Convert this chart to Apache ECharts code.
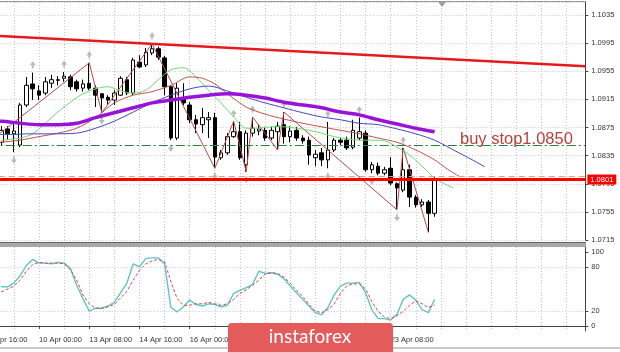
<!DOCTYPE html>
<html>
<head>
<meta charset="utf-8">
<script src="https://cdn.jsdelivr.net/npm/echarts@6/dist/echarts.min.js"></script>
<style>
  html, body { margin: 0; padding: 0; background: #fff; }
  #chart { width: 620px; height: 352px; }
</style>
</head>
<body>
<div id="chart"></div>
<script>
// H4 bars, trading days only
var tradingDays = [8, 9, 10, 13, 14, 15, 16, 17, 20, 21, 22, 23, 24, 27, 28, 29, 30];
var barHours = ['00:00', '04:00', '08:00', '12:00', '16:00', '20:00'];
var firstSlot = 4;        // axis starts at 8 Apr 16:00
var slotCount = 96;
var candleStart = 2;      // first candle: 9 Apr 00:00
var lastLabelSlot = 64;   // 23 Apr 08:00

var basePrice = 1.0715;   // bottom of price scale
var topPrice = 1.10535;

// [open, close, low, high]
var candles = [
  [1.0854, 1.0871, 1.0849, 1.0877], [1.0873, 1.0866, 1.0857, 1.0877], [1.0866, 1.0870, 1.0840, 1.0881],
  [1.0850, 1.0907, 1.0847, 1.0910], [1.0907, 1.0935, 1.0904, 1.0947], [1.0937, 1.0930, 1.0914, 1.0953],
  [1.0927, 1.0921, 1.0914, 1.0935], [1.0924, 1.0940, 1.0921, 1.0947], [1.0938, 1.0943, 1.0931, 1.0950],
  [1.0942, 1.0943, 1.0935, 1.0948], [1.0945, 1.0948, 1.0940, 1.0954], [1.0947, 1.0933, 1.0928, 1.0950],
  [1.0940, 1.0930, 1.0926, 1.0943], [1.0931, 1.0937, 1.0926, 1.0943], [1.0938, 1.0931, 1.0928, 1.0967],
  [1.0931, 1.0921, 1.0904, 1.0935], [1.0923, 1.0917, 1.0896, 1.0924], [1.0918, 1.0914, 1.0907, 1.0921],
  [1.0914, 1.0924, 1.0907, 1.0928], [1.0921, 1.0945, 1.0920, 1.0948], [1.0943, 1.0924, 1.0921, 1.0947],
  [1.0924, 1.0971, 1.0921, 1.0974], [1.0968, 1.0961, 1.0960, 1.0978], [1.0964, 1.0982, 1.0961, 1.0988],
  [1.0981, 1.0987, 1.0978, 1.0994], [1.0987, 1.0975, 1.0971, 1.0990], [1.0974, 1.0933, 1.0921, 1.0977],
  [1.0933, 1.0860, 1.0857, 1.0935], [1.0860, 1.0931, 1.0857, 1.0938], [1.0917, 1.0910, 1.0907, 1.0938],
  [1.0907, 1.0886, 1.0881, 1.0911], [1.0886, 1.0880, 1.0867, 1.0893], [1.0879, 1.0889, 1.0867, 1.0903],
  [1.0886, 1.0889, 1.0860, 1.0897], [1.0889, 1.0833, 1.0817, 1.0896], [1.0832, 1.0839, 1.0829, 1.0843],
  [1.0839, 1.0862, 1.0836, 1.0867], [1.0862, 1.0869, 1.0860, 1.0884], [1.0869, 1.0832, 1.0829, 1.0883],
  [1.0822, 1.0867, 1.0812, 1.0871], [1.0867, 1.0874, 1.0862, 1.0890], [1.0870, 1.0873, 1.0864, 1.0879],
  [1.0871, 1.0860, 1.0856, 1.0876], [1.0860, 1.0871, 1.0857, 1.0876], [1.0869, 1.0877, 1.0843, 1.0883],
  [1.0879, 1.0862, 1.0852, 1.0897], [1.0862, 1.0870, 1.0854, 1.0877], [1.0871, 1.0860, 1.0856, 1.0876],
  [1.0860, 1.0856, 1.0852, 1.0864], [1.0857, 1.0836, 1.0822, 1.0862], [1.0832, 1.0837, 1.0820, 1.0843],
  [1.0839, 1.0829, 1.0820, 1.0846], [1.0829, 1.0843, 1.0817, 1.0883], [1.0843, 1.0857, 1.0840, 1.0860],
  [1.0857, 1.0854, 1.0850, 1.0860], [1.0857, 1.0846, 1.0843, 1.0862], [1.0847, 1.0871, 1.0844, 1.0886],
  [1.0860, 1.0869, 1.0857, 1.0889], [1.0867, 1.0815, 1.0812, 1.0871], [1.0815, 1.0822, 1.0810, 1.0826],
  [1.0820, 1.0810, 1.0807, 1.0825], [1.0810, 1.0815, 1.0807, 1.0819], [1.0817, 1.0796, 1.0793, 1.0833],
  [1.0795, 1.0789, 1.0758, 1.0797], [1.0786, 1.0815, 1.0783, 1.0846], [1.0815, 1.0776, 1.0762, 1.0822],
  [1.0776, 1.0765, 1.0761, 1.0779], [1.0765, 1.0769, 1.0762, 1.0773], [1.0769, 1.0753, 1.0726, 1.0772],
  [1.0753, 1.0801, 1.0748, 1.0805]
];

// indicator lines, [bar, price]
var maPurple = [[-2, 1.0884], [0, 1.0884], [3, 1.0881], [6, 1.0879], [9, 1.0879], [12, 1.0881], [15, 1.0889],
  [18, 1.0896], [21, 1.0903], [24, 1.0910], [27, 1.0914], [30, 1.0918], [33, 1.0921], [36, 1.0923],
  [39, 1.0921], [42, 1.0917], [45, 1.0911], [48, 1.0907], [51, 1.0903], [54, 1.0897], [57, 1.0893],
  [60, 1.0886], [63, 1.0880], [66, 1.0874], [69, 1.0869]];
var jawBlue = [[-2, 1.0865], [2, 1.0865], [4, 1.0866], [8, 1.0866], [12, 1.0867], [15, 1.0874], [18, 1.0884],
  [21, 1.0897], [24, 1.0910], [27, 1.0921], [30, 1.0930], [33, 1.0934], [36, 1.0927], [39, 1.0918],
  [42, 1.0910], [45, 1.0903], [48, 1.0896], [51, 1.0890], [54, 1.0886], [57, 1.0881], [60, 1.0879],
  [63, 1.0873], [66, 1.0866], [69, 1.0857], [72, 1.0843], [75, 1.0829], [77, 1.0819]];
var teethRed = [[-2, 1.0852], [0, 1.0854], [3, 1.0857], [6, 1.0862], [9, 1.0867], [12, 1.0874], [15, 1.0889],
  [18, 1.0910], [21, 1.0921], [24, 1.0926], [27, 1.0935], [30, 1.0947], [32, 1.0945], [34, 1.0937],
  [36, 1.0923], [39, 1.0904], [42, 1.0894], [45, 1.0887], [48, 1.0881], [51, 1.0876], [54, 1.0871],
  [57, 1.0866], [60, 1.0860], [63, 1.0854], [66, 1.0843], [69, 1.0829], [71, 1.0816], [73, 1.0805]];
var lipsGreen = [[0, 1.0857], [3, 1.0860], [5, 1.0866], [7, 1.0881], [9, 1.0897], [11, 1.0911], [13, 1.0923],
  [15, 1.0930], [17, 1.0933], [19, 1.0927], [21, 1.0924], [23, 1.0928], [25, 1.0943], [27, 1.0957],
  [29, 1.0960], [31, 1.0947], [33, 1.0928], [35, 1.0910], [37, 1.0890], [39, 1.0874], [41, 1.0874],
  [43, 1.0876], [45, 1.0876], [47, 1.0874], [49, 1.0871], [51, 1.0867], [53, 1.0862], [55, 1.0859],
  [57, 1.0857], [59, 1.0857], [61, 1.0856], [63, 1.0847], [65, 1.0836], [67, 1.0820], [69, 1.0803],
  [71, 1.0793], [72, 1.0789]];
var zigzag = [[-2, 1.0854], [14, 1.0967], [16, 1.0896], [24, 1.0994], [34, 1.0817], [37, 1.0884],
  [39, 1.0812], [40, 1.0890], [44, 1.0843], [45, 1.0897], [63, 1.0758], [64, 1.0846], [68, 1.0726]];
var trendLine = [[-2, 1.1006], [93, 1.0962]];

var fractalUp = [5, 10, 14, 24, 37, 40, 45, 52, 57, 64];
var fractalDown = [2, 16, 27, 34, 39, 52, 59, 63];

var bidPrice = 1.0801;
var askPrice = 1.0805;
var buyStop = 1.0850;

// stochastic %K and %D per bar
var stochK = [53, 53, 58, 68, 82, 90, 85, 85, 84, 86,
  85, 78, 55, 37, 20, 24, 24, 27, 32, 45,
  58, 84, 80, 91, 92, 92, 84, 25, 19, 26,
  35, 29, 27, 30, 29, 26, 28, 44, 48, 52,
  56, 74, 71, 72, 70, 64, 54, 45, 36, 27,
  18, 15, 25, 42, 54, 58, 58, 59, 45, 22,
  10, 10, 8, 16, 36, 42, 35, 22, 18, 36];
var stochD = [46, 50, 54, 62, 74, 83, 86, 85, 85, 85,
  84, 76, 62, 42, 30, 24, 24, 26, 29, 38,
  47, 62, 75, 84, 88, 90, 87, 60, 37, 28,
  28, 30, 30, 32, 30, 28, 30, 36, 44, 49,
  55, 62, 70, 72, 71, 66, 58, 48, 40, 29,
  20, 18, 22, 30, 44, 54, 57, 57, 50, 33,
  20, 12, 10, 14, 20, 28, 34, 30, 25, 28];
var stochLabels = [0, 20, 80, 100];

// ---- build
var categories = [];
tradingDays.forEach(function (d) {
  barHours.forEach(function (h) { categories.push(d + ' Apr ' + h); });
});
categories = categories.slice(firstSlot, firstSlot + slotCount);

function pips(p) { return Math.round((p - basePrice) * 100000) / 10; }
function priceLine(arr) {
  return arr.map(function (d) { return [d[0] + candleStart, pips(d[1])]; });
}
function pad(arr) {
  var out = [];
  for (var i = 0; i < candleStart; i++) out.push('-');
  return out.concat(arr);
}

var candleData = pad(candles.map(function (c) { return c.map(pips); }));
var upData = fractalUp.map(function (i) { return [i + candleStart, pips(candles[i][3])]; });
var downData = fractalDown.map(function (i) { return [i + candleStart, pips(candles[i][2])]; });

var labelFont = 'Liberation Sans';
var gridLine = { color: '#c4c4c4', type: [1, 2], width: 1 };
function every4(i) { return i % 4 === 0; }
function labelSlot(i) { return i % 8 === 0 && i <= lastLabelSlot; }

var chart = echarts.init(document.getElementById('chart'));
chart.setOption({
  animation: false,
  backgroundColor: '#fff',
  grid: [
    { left: -11.24, top: 2, width: 596.6, height: 238, outerBoundsMode: 'none', containLabel: false },
    { left: -11.24, top: 247, width: 596.6, height: 84, outerBoundsMode: 'none', containLabel: false }
  ],
  xAxis: [
    {
      type: 'category', gridIndex: 0, data: categories, boundaryGap: false,
      axisLine: { show: false }, axisTick: { show: false }, axisLabel: { show: false },
      splitLine: { show: true, interval: every4, lineStyle: gridLine }
    },
    {
      type: 'category', gridIndex: 1, data: categories, boundaryGap: false,
      axisLine: { show: true, lineStyle: { color: '#444' } },
      axisTick: { show: true, interval: labelSlot, length: 3, lineStyle: { color: '#444' } },
      axisLabel: { interval: labelSlot, align: 'left', margin: 5, fontSize: 7.5, color: '#333', fontFamily: labelFont },
      splitLine: { show: true, interval: every4, lineStyle: gridLine }
    }
  ],
  yAxis: [
    {
      type: 'value', gridIndex: 0, position: 'right', min: 0, max: pips(topPrice), interval: 40,
      axisLine: { show: true, lineStyle: { color: '#444' } },
      axisTick: { show: true, length: 3, lineStyle: { color: '#444' } },
      axisLabel: {
        margin: 6, fontSize: 7.5, color: '#333', fontFamily: labelFont, showMaxLabel: false,
        formatter: function (v) { return (basePrice + v / 10000).toFixed(4); }
      },
      splitLine: { show: true, lineStyle: gridLine }
    },
    {
      type: 'value', gridIndex: 1, position: 'right', min: -6.76, max: 106.76,
      axisLine: { show: true, lineStyle: { color: '#444' } },
      axisTick: { show: true, length: 3, customValues: stochLabels, lineStyle: { color: '#444' } },
      axisLabel: { margin: 6, fontSize: 7.5, color: '#333', fontFamily: labelFont, customValues: stochLabels },
      splitLine: { show: false }
    }
  ],
  series: [
    {
      type: 'candlestick', xAxisIndex: 0, yAxisIndex: 0, data: candleData, barWidth: 4,
      itemStyle: { color: '#fff', color0: '#000', borderColor: '#000', borderColor0: '#000', borderWidth: 1 },
      markLine: {
        silent: true, symbol: 'none',
        data: [
          { yAxis: pips(buyStop), lineStyle: { color: '#2f7d3a', width: 1, type: [9, 3, 2, 3] }, label: { show: false } },
          { yAxis: pips(askPrice), lineStyle: { color: '#f0a060', width: 1, type: [6, 4] }, label: { show: false } },
          {
            yAxis: pips(bidPrice), lineStyle: { color: '#ff0000', width: 3, type: 'solid' },
            label: {
              show: true, position: 'end', distance: 2, formatter: bidPrice.toFixed(4),
              color: '#fff', backgroundColor: '#ff0000', padding: [1, 3], fontSize: 7.5, fontFamily: labelFont
            }
          }
        ]
      }
    },
    { type: 'line', xAxisIndex: 0, yAxisIndex: 0, data: priceLine(trendLine), showSymbol: false, lineStyle: { color: '#e51a1a', width: 2.5 } },
    { type: 'line', xAxisIndex: 0, yAxisIndex: 0, data: priceLine(zigzag), showSymbol: false, lineStyle: { color: '#b54a4a', width: 1 } },
    { type: 'line', xAxisIndex: 0, yAxisIndex: 0, data: priceLine(lipsGreen), showSymbol: false, smooth: 0.3, lineStyle: { color: '#70d870', width: 1 } },
    { type: 'line', xAxisIndex: 0, yAxisIndex: 0, data: priceLine(teethRed), showSymbol: false, smooth: 0.3, lineStyle: { color: '#c0504d', width: 1 } },
    { type: 'line', xAxisIndex: 0, yAxisIndex: 0, data: priceLine(jawBlue), showSymbol: false, smooth: 0.3, lineStyle: { color: '#4646c0', width: 1 } },
    { type: 'line', xAxisIndex: 0, yAxisIndex: 0, data: priceLine(maPurple), showSymbol: false, smooth: 0.3, lineStyle: { color: '#9a12d8', width: 3.5 } },
    {
      type: 'scatter', xAxisIndex: 0, yAxisIndex: 0, data: upData,
      symbol: 'path://M5,0 L10,6 L6.5,6 L6.5,10 L3.5,10 L3.5,6 L0,6 Z', symbolSize: [6, 7], symbolOffset: [0, -8],
      itemStyle: { color: '#a8a8a8' }
    },
    {
      type: 'scatter', xAxisIndex: 0, yAxisIndex: 0, data: downData,
      symbol: 'path://M5,0 L10,6 L6.5,6 L6.5,10 L3.5,10 L3.5,6 L0,6 Z', symbolSize: [6, 7], symbolOffset: [0, 8], symbolRotate: 180,
      itemStyle: { color: '#a8a8a8' }
    },
    {
      type: 'line', xAxisIndex: 1, yAxisIndex: 1, data: pad(stochK), showSymbol: false,
      lineStyle: { color: '#62c4c4', width: 1.4 },
      markLine: {
        silent: true, symbol: 'none', label: { show: false },
        lineStyle: { color: '#c4c4c4', type: [1, 2], width: 1 },
        data: [{ yAxis: 20 }, { yAxis: 80 }]
      }
    },
    { type: 'line', xAxisIndex: 1, yAxisIndex: 1, data: pad(stochD), showSymbol: false, lineStyle: { color: '#d24a4a', width: 1, type: [3, 2] } }
  ],
  graphic: [
    { type: 'line', z: 50, shape: { x1: 0, y1: 1.5, x2: 586, y2: 1.5 }, style: { stroke: '#999', lineWidth: 1 } },
    { type: 'rect', z: 50, shape: { x: 0, y: 242, width: 586, height: 5 }, style: { fill: '#a8a8a8' } },
    { type: 'line', z: 50, shape: { x1: 0, y1: 242.5, x2: 586, y2: 242.5 }, style: { stroke: '#666', lineWidth: 1 } },
    { type: 'line', z: 50, shape: { x1: 0, y1: 348, x2: 620, y2: 348 }, style: { stroke: '#c8c8c8', lineWidth: 2 } },
    { type: 'polygon', z: 50, shape: { points: [[438, 2], [446, 2], [442, 7]] }, style: { fill: '#a0a0a0' } },
    {
      type: 'text', z: 60, style: {
        x: 460, y: 139, text: 'buy stop1.0850', fill: '#b8403a',
        font: '16.5px "Liberation Sans"', verticalAlign: 'middle'
      }
    },
    { type: 'rect', z: 100, shape: { x: 228, y: 323, width: 165, height: 36, r: 4 }, style: { fill: '#e35b5b' } },
    {
      type: 'text', z: 101, style: {
        x: 310, y: 337, text: 'instaforex', fill: '#fff', font: '19px Lato',
        align: 'center', verticalAlign: 'middle'
      }
    }
  ]
});
</script>
</body>
</html>
